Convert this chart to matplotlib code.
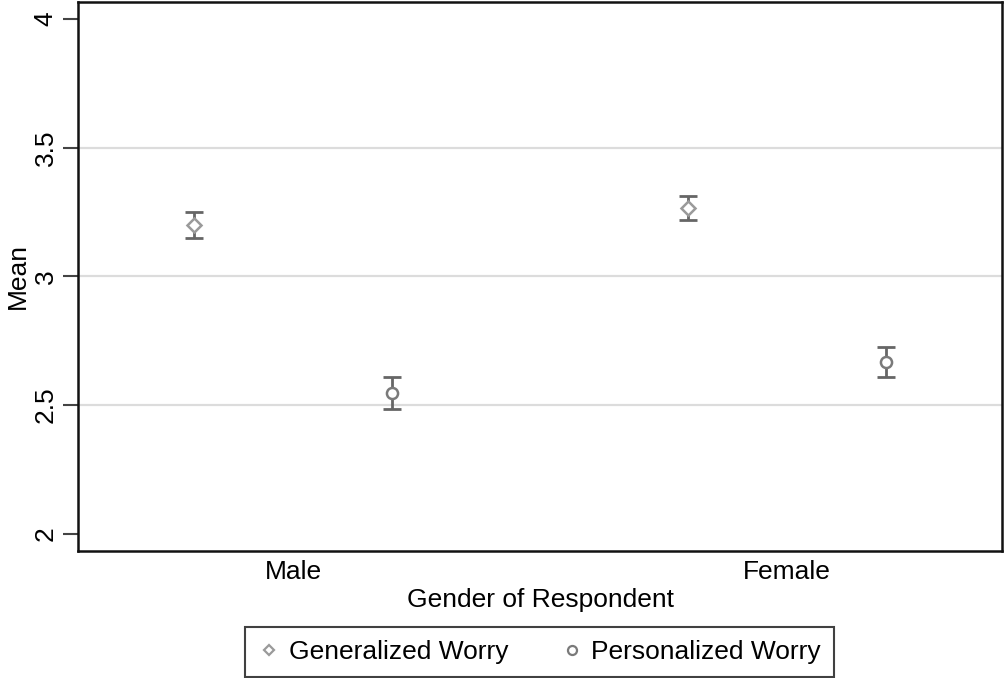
import numpy as np
import matplotlib.pyplot as plt
from matplotlib.lines import Line2D

plt.rcParams['font.family'] = ['Liberation Sans', 'DejaVu Sans']

# ----------------------------
# Data: means with 95% CI bounds
# ----------------------------
groups = ["Male", "Female"]
series = ["Generalized Worry", "Personalized Worry"]
means = {
    "Generalized Worry": [3.200, 3.266],
    "Personalized Worry": [2.546, 2.668],
}
lower = {
    "Generalized Worry": [3.148, 3.218],
    "Personalized Worry": [2.484, 2.609],
}
upper = {
    "Generalized Worry": [3.249, 3.313],
    "Personalized Worry": [2.610, 2.727],
}
yticks = [2, 2.5, 3, 3.5, 4]

# ----------------------------
# Styling
# ----------------------------
offsets = {"Generalized Worry": -0.2, "Personalized Worry": 0.2}
markers = {"Generalized Worry": "D", "Personalized Worry": "o"}
msizes = {"Generalized Worry": 7, "Personalized Worry": 8}
mcolors = {"Generalized Worry": "#9a9a9a", "Personalized Worry": "#7a7a7a"}
err_color = "#666666"
fs = 19

fig = plt.figure(figsize=(10.05, 6.78), dpi=100)
ax = fig.add_axes([0.0776, 0.188, 0.9195, 0.809])

x = np.arange(1, len(groups) + 1)

for s in series:
    xs = x + offsets[s]
    m = np.array(means[s])
    lo = m - np.array(lower[s])
    hi = np.array(upper[s]) - m
    ax.errorbar(xs, m, yerr=[lo, hi], fmt="none", ecolor=err_color,
                elinewidth=2, capsize=6.5, capthick=2, zorder=2)
    ax.plot(xs, m, linestyle="none", marker=markers[s], markersize=msizes[s],
            markerfacecolor="white", markeredgecolor=mcolors[s],
            markeredgewidth=1.8, zorder=3)

# gridlines inside the range only
for yv in yticks[1:-1]:
    ax.axhline(yv, color="#dcdcdc", linewidth=1.6, zorder=0)

ax.set_xlim(0.565, 2.435)
ax.set_ylim(1.935, 4.066)

ax.set_xticks(x)
ax.set_xticklabels(groups, fontsize=fs)
ax.tick_params(axis="x", length=0, pad=6.5)

ax.set_yticks(yticks)
ax.set_yticklabels([f"{v:g}" for v in yticks], fontsize=fs, rotation=90, va="center")
ax.tick_params(axis="y", length=11, width=1.5, color="#444444", pad=3.5)

ax.set_xlabel("Gender of Respondent", fontsize=fs, labelpad=3)
ax.set_ylabel("Mean", fontsize=fs, labelpad=3)

for sp in ax.spines.values():
    sp.set_linewidth(1.8)
    sp.set_color("#111111")

handles = [
    Line2D([], [], linestyle="none", marker=markers[s], markersize=msizes[s] - 1.5,
           markerfacecolor="white", markeredgecolor=mcolors[s], markeredgewidth=1.6,
           label=s)
    for s in series
]
leg = fig.legend(handles=handles, loc="lower center", bbox_to_anchor=(0.537, 0.0015),
                 borderaxespad=0, ncol=2, fontsize=fs, frameon=True, fancybox=False,
                 edgecolor="#111111", handletextpad=0.35, columnspacing=2.0,
                 handlelength=0.8, borderpad=0.5)
leg.get_frame().set_linewidth(1.5)

fig.savefig("out.png", dpi=100)
